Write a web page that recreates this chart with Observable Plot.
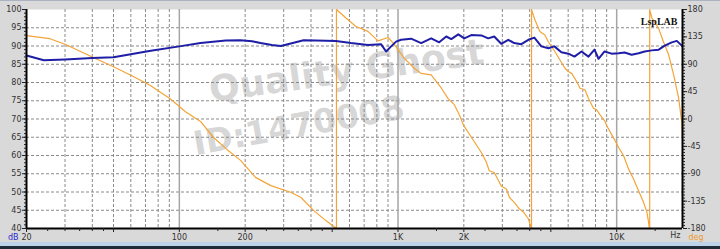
<!DOCTYPE html>
<html>
<head>
<meta charset="utf-8">
<script src="https://cdn.jsdelivr.net/npm/d3@7"></script>
<script src="https://cdn.jsdelivr.net/npm/@observablehq/plot@0.6"></script>
<style>
  html, body { margin: 0; padding: 0; background: #d9d9d9; }
  #wrap { position: relative; width: 720px; height: 249px; overflow: hidden; background: #d9d9d9; border-top: 1px solid #a9b4c0; box-sizing: border-box; }
  #chart { position: absolute; left: 0; top: 0; }
  .band1 { position: absolute; left: 0; top: 241px; width: 720px; height: 4px; background: #bcd3ea; }
  .band2 { position: absolute; left: 0; top: 245px; width: 720px; height: 4px; background: #1d2b3b; }
</style>
</head>
<body>
<div id="wrap"><div id="chart"></div><div class="band1"></div><div class="band2"></div></div>
<script>
// ---- Data ----
// Magnitude response (dB, left axis)
const magFreq = [20, 24, 30, 40, 50, 74, 100, 125, 163, 190, 215, 235, 265, 291, 320, 370, 421, 520, 609, 729, 836, 882, 930, 980, 1033, 1148, 1276, 1418, 1543, 1662, 1752, 1886, 2010, 2164, 2405, 2585, 2754, 2965, 3193, 3402, 3663, 3945, 4202, 4524, 4871, 5188, 5587, 6017, 6411, 6902, 7430, 7916, 8260, 8802, 9476, 10200, 10870, 11705, 12600, 13430, 14460, 15570, 16590, 17860, 18840, 20000];
const magDb = [87.4, 86.1, 86.3, 86.7, 86.9, 88.7, 89.9, 90.8, 91.5, 91.6, 91.3, 90.8, 90.3, 90.0, 90.6, 91.6, 91.5, 91.4, 90.8, 90.3, 90.5, 88.5, 89.9, 91.2, 91.7, 92.0, 90.8, 92.1, 91.0, 92.6, 91.9, 93.2, 92.1, 93.0, 92.9, 92.1, 92.6, 90.6, 91.7, 90.8, 90.5, 91.7, 92.3, 89.9, 89.4, 89.9, 88.3, 87.9, 87.1, 88.5, 87.1, 89.0, 86.5, 88.5, 87.9, 88.0, 88.2, 87.6, 88.0, 88.5, 88.8, 89.0, 90.1, 91.0, 91.4, 89.9];

// Phase response (deg, right axis), wrapped at ±180
const phaseFreq = [20, 25.6, 30.4, 40.4, 50, 61.6, 73.7, 91.1, 106.7, 125, 143, 165, 190.6, 223, 262, 323, 359, 412, 468, 514, 523,
  523, 531, 578, 642, 729, 810, 901, 960, 1067, 1186, 1276, 1418, 1577, 1692, 1809, 1907, 1990, 2164, 2405, 2536, 2614, 2754, 2880, 2965, 3133, 3233, 3402, 3592, 3747, 3945, 4036, 4080,
  4080, 4225, 4455, 4695, 4867, 5040, 5218, 5502, 5800, 6010, 6226, 6561, 6795, 7161, 7424, 7827, 8107, 8394, 8848, 9008, 9833, 10193, 10745, 11326, 11944, 12590, 13271, 13749, 13998, 14085, 14160,
  14160, 14487, 15554, 16359, 17286, 18221, 19212, 19891, 20000];
const phaseDeg = [137, 132, 122, 101, 86, 70, 55, 33, 12, -4, -30, -50, -68, -96, -109.5, -120.5, -128.7, -150.6, -167, -178, -180,
  180, 178, 166, 152, 144, 128.5, 134, 123, 100, 83.5, 75, 72.5, 51, 34, 23.6, 7, -9.7, -30, -55, -71, -85, -88, -101, -110, -115, -129, -137, -148, -153, -164, -175, -180,
  180, 163, 144, 138, 127, 119, 111, 97, 83.5, 78, 75, 61.6, 50.6, 48, 34, 17.7, 15, 6.8, -4, -11, -35.5, -46.5, -60, -82, -98.5, -118, -137, -153, -170, -178, -180,
  180, 166, 149, 127, 105.5, 72.6, 34, -8, -35];

// Axis ticks and labels
const dbTicks = [40, 45, 50, 55, 60, 65, 70, 75, 80, 85, 90, 95, 100];
const degTicks = [180, 135, 90, 45, 0, -45, -90, -135, -180];
const freqTicks = [20, 50, 100, 200, 500, 1000, 2000, 5000, 10000];
const freqLabels = ["20", "50", "100", "200", "500", "1K", "2K", "5K", "10K"];
const freqMinorTicks = [25, 30, 35, 40, 45, 150, 250, 300, 350, 400, 450, 1500, 2500, 3000, 3500, 4000, 4500, 15000];
const gridDashed = [30, 40, 50, 60, 70, 80, 90, 200, 300, 400, 500, 600, 700, 800, 900, 2000, 3000, 4000, 5000, 6000, 7000, 8000, 9000];
const gridSolid = [100, 1000, 10000];

// ---- Build tables ----
const mag = magFreq.map((f, i) => ({f, v: magDb[i]}));
const degToDb = d => 40 + (d + 180) / 6;   // map ±180° onto 40..100 dB
const dbToDeg = v => Math.round((v - 40) * 6 - 180);
const phase = phaseFreq.map((f, i) => ({f, v: degToDb(phaseDeg[i])}));
const labelOf = new Map(freqTicks.map((t, i) => [t, freqLabels[i]]));

const font = "Tahoma, 'DejaVu Sans', sans-serif";
const wmFont = "'DejaVu Sans', sans-serif";

const chart = Plot.plot({
  width: 720,
  height: 249,
  marginLeft: 26,
  marginRight: 38,
  marginTop: 8,
  marginBottom: 22,
  style: {background: "transparent", fontFamily: font, fontSize: "8px", color: "#333"},
  x: {type: "log", domain: [20, 20000], axis: null},
  y: {domain: [40, 100], axis: null},
  marks: [
    Plot.frame({fill: "white", stroke: "none"}),
    // watermark
    Plot.text(["Quality Ghost"], {frameAnchor: "top-left", dx: 318, dy: 48, textAnchor: "middle", rotate: -8, fontSize: 36, fontWeight: "bold", fill: "#cccccc", fillOpacity: 0.8, fontFamily: wmFont}),
    Plot.text(["ID:1470008"], {frameAnchor: "top-left", dx: 270, dy: 104, textAnchor: "middle", rotate: -10, fontSize: 33, fontWeight: "bold", fill: "#cccccc", fillOpacity: 0.8, fontFamily: wmFont}),
    // grid
    Plot.ruleY(dbTicks.filter(d => d > 40 && d < 100), {stroke: "#8a8a8a", strokeWidth: 1, strokeDasharray: "3,2"}),
    Plot.ruleX(gridDashed, {stroke: "#8a8a8a", strokeWidth: 1, strokeDasharray: "3,2"}),
    Plot.ruleX(gridSolid, {stroke: "#a6a6a6", strokeWidth: 1.5}),
    // data
    Plot.line(phase, {x: "f", y: "v", stroke: "#f4a437", strokeWidth: 1.2}),
    Plot.line(mag, {x: "f", y: "v", stroke: "#1e1ea6", strokeWidth: 2}),
    // axes lines
    Plot.ruleX([20], {stroke: "black", strokeWidth: 2}),
    Plot.ruleX([20000], {stroke: "black", strokeWidth: 2}),
    Plot.ruleY([40], {stroke: "black", strokeWidth: 2}),
    // left axis
    Plot.axisY({anchor: "left", ticks: d3.range(40, 100.5, 1), tickSize: 2, tickFormat: () => "", stroke: "#222", label: null}),
    Plot.axisY({anchor: "left", ticks: dbTicks, tickSize: 4, tickPadding: 1, tickFormat: d => String(d), fill: "#333", stroke: "#222", label: null}),
    // right axis
    Plot.axisY({anchor: "right", ticks: d3.range(-180, 180.5, 5).map(degToDb), tickSize: 2, tickFormat: () => "", stroke: "#222", label: null}),
    Plot.axisY({anchor: "right", ticks: degTicks.map(degToDb), tickSize: 4, tickPadding: 1, tickFormat: v => String(dbToDeg(v)), fill: "#333", stroke: "#222", label: null}),
    // bottom axis
    Plot.axisX({ticks: freqMinorTicks, tickSize: 3, tickFormat: () => "", stroke: "#222", label: null}),
    Plot.axisX({ticks: freqTicks, tickSize: 4, tickPadding: 2, tickFormat: d => labelOf.get(d), fill: "#333", stroke: "#222", label: null}),
    // unit labels
    Plot.text(["dB"], {frameAnchor: "bottom-left", dx: -8, dy: 11, textAnchor: "end", fill: "#2a2ad0", fontSize: 8}),
    Plot.text(["Hz"], {frameAnchor: "bottom-right", dx: -2, dy: 9, textAnchor: "end", fill: "#333", fontSize: 8}),
    Plot.text(["deg"], {frameAnchor: "bottom-right", dx: 6, dy: 11, textAnchor: "start", fill: "#f09a30", fontSize: 8}),
    Plot.text(["LspLAB"], {frameAnchor: "top-right", dx: -5, dy: 8, textAnchor: "end", fill: "#111", fontSize: 10, fontWeight: "bold", fontFamily: "'Liberation Serif', serif"})
  ]
});
document.getElementById("chart").appendChild(chart);
</script>
</body>
</html>
